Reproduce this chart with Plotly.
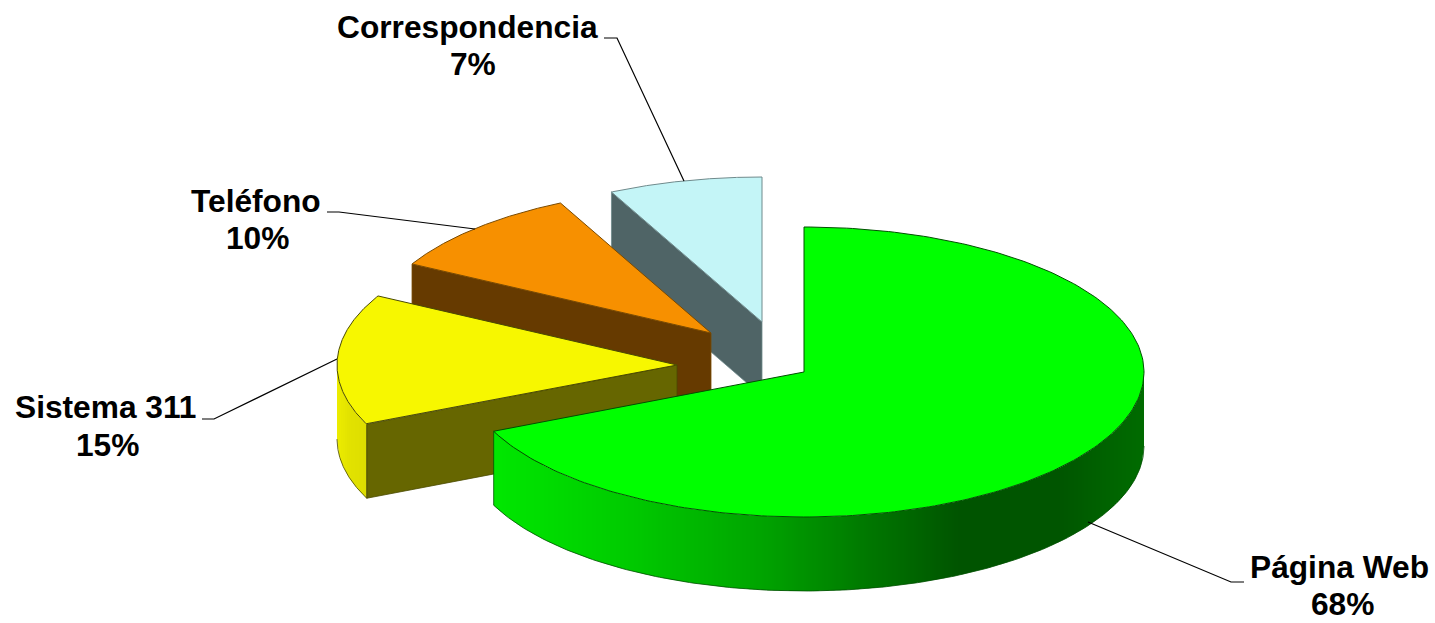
import numpy as np
import plotly.graph_objects as go

# ---- data ----
labels = ["Página Web", "Sistema 311", "Teléfono", "Correspondencia"]
values = [68.3, 14.6, 9.8, 7.3]

# ---- style / layout ----
top_colors = ["#00ff00", "#f7f700", "#f79000", "#c4f5f7"]
cut_colors = ["#00c000", "#666600", "#663a00", "#4f6466"]
edge_colors = ["#005000", "#4a4a00", "#7a4a00", "#6f8a8c"]
apex = [(804, 372), (677, 365), (711, 333), (762, 322)]
RX, RY, DEPTH = 340, 145, 74
W, H = 1435, 623

# wall shading stops: (x-position along the wall, rgb)
green_stops_x = [492, 620, 760, 880, 960, 1060, 1110, 1144]
green_stops_rgb = [(0, 232, 0), (0, 205, 0), (0, 165, 0), (0, 115, 0), (0, 84, 0), (0, 86, 0), (0, 100, 0), (0, 108, 0)]
yellow_stops_x = [336, 350, 366]
yellow_stops_rgb = [(238, 238, 0), (226, 226, 0), (222, 222, 0)]

name_pos = [(1339, 567), (105, 407), (256, 201), (467, 27)]
pct_pos = [(1342, 604), (107, 445), (257, 238), (473, 64)]
leaders = [
    [(1088, 522), (1231, 582), (1244, 582)],
    [(337, 359), (214, 419), (202, 419)],
    [(475, 229), (339, 212), (327, 212)],
    [(684, 181), (617, 38), (604, 38)],
]
FONT = dict(family="Liberation Sans, Arial, sans-serif", size=31.7, color="#000000")
STRIP = 2

fig = go.Figure()


def pt(c, a):
    return c[0] + RX * np.sin(a), c[1] - RY * np.cos(a)


def poly(xs, ys, fill, line=None, width=0.8):
    fig.add_trace(go.Scatter(
        x=list(xs), y=list(ys), mode="lines", fill="toself", fillcolor=fill,
        line=dict(color=line or fill, width=width), hoverinfo="skip", showlegend=False))


def shade(x, sx, srgb):
    return "rgb(%d,%d,%d)" % tuple(np.interp(x, sx, [c[i] for c in srgb]) for i in range(3))


def wall(c, a0, a1, sx, srgb, edge):
    # pixel-aligned vertical strips, so the shading has no seams
    xa, _ = pt(c, a0)
    xb, _ = pt(c, a1)
    xmin, xmax = min(xa, xb), max(xa, xb)
    grid = np.arange(np.ceil(xmin), xmax, STRIP)
    grid = np.unique(np.concatenate([[xmin], grid, [xmax]]))

    def low(x):
        return c[1] + RY * np.sqrt(np.clip(1 - ((x - c[0]) / RX) ** 2, 0, 1))

    for u, v in zip(grid[:-1], grid[1:]):
        col = shade((u + v) / 2, sx, srgb)
        poly([u, v, v, u, u], [low(u), low(v), low(v) + DEPTH, low(u) + DEPTH, low(u)], col, col, 0)
    aa2 = np.linspace(a0, a1, 200)
    px, py = pt(c, aa2)
    fig.add_trace(go.Scatter(x=px, y=py + DEPTH, mode="lines", line=dict(color=edge, width=0.8),
                             hoverinfo="skip", showlegend=False))


fractions = np.array(values) / sum(values)
starts = np.concatenate([[0], np.cumsum(fractions)[:-1]]) * 2 * np.pi
ends = np.cumsum(fractions) * 2 * np.pi

for i in [3, 2, 1, 0]:
    c = apex[i]
    a0, a1 = starts[i], ends[i]
    # radial cut face on the start side, hanging below the top
    x0, y0 = pt(c, a0)
    if i > 0:
        poly([x0, c[0], c[0], x0, x0], [y0, c[1], c[1] + DEPTH, y0 + DEPTH, y0], cut_colors[i], edge_colors[i])
    # outer cylindrical wall
    lo, hi = max(a0, np.pi / 2), min(a1, 3 * np.pi / 2)
    if hi > lo:
        if i == 0:
            wall(c, lo, hi, green_stops_x, green_stops_rgb, edge_colors[i])
        else:
            wall(c, lo, hi, yellow_stops_x, yellow_stops_rgb, edge_colors[i])
        xe, ye = pt(c, a0 if i == 1 else a1)
        fig.add_trace(go.Scatter(x=[xe, xe], y=[ye, ye + DEPTH], mode="lines",
                                 line=dict(color=edge_colors[i], width=0.8), hoverinfo="skip", showlegend=False))
    # top face
    aa = np.linspace(a0, a1, 240)
    tx, ty = pt(c, aa)
    poly([c[0], *tx, c[0]], [c[1], *ty, c[1]], top_colors[i], edge_colors[i], 1)

for pts in leaders:
    fig.add_trace(go.Scatter(x=[p[0] for p in pts], y=[p[1] for p in pts], mode="lines",
                             line=dict(color="#000000", width=1.2), hoverinfo="skip", showlegend=False))

for name, v, np_, pp in zip(labels, values, name_pos, pct_pos):
    fig.add_annotation(x=np_[0], y=np_[1], text=f"<b>{name}</b>", showarrow=False, font=FONT,
                       xanchor="center", yanchor="middle")
    fig.add_annotation(x=pp[0], y=pp[1], text=f"<b>{round(v)}%</b>", showarrow=False, font=FONT,
                       xanchor="center", yanchor="middle")

fig.update_layout(
    width=W, height=H, margin=dict(l=0, r=0, t=0, b=0, pad=0),
    paper_bgcolor="#ffffff", plot_bgcolor="#ffffff", showlegend=False,
    xaxis=dict(range=[0, W], visible=False, fixedrange=True),
    yaxis=dict(range=[H, 0], visible=False, fixedrange=True),
)
fig.write_html("out.html", config=dict(displayModeBar=False),
               post_script="document.body.style.margin='0';document.body.style.overflow='hidden';")
